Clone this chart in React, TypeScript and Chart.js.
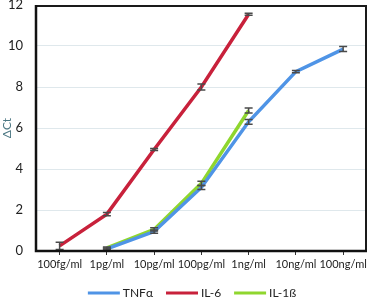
import React, { useEffect, useRef } from "react";
import { Chart, registerables } from "chart.js";

Chart.register(...registerables);

const categories = ["100fg/ml", "1pg/ml", "10pg/ml", "100pg/ml", "1ng/ml", "10ng/ml", "100ng/ml"];
const tnfValues = [null, 0.1, 0.95, 3.1, 6.3, 8.75, 9.85];
const tnfErrors = [0, 0.05, 0.08, 0.1, 0.12, 0.05, 0.12];
const il6Values = [0.25, 1.8, 4.95, 8.0, 11.55, null, null];
const il6Errors = [0.18, 0.08, 0.05, 0.15, 0.05, 0, 0];
const il1Values = [null, 0.15, 1.05, 3.3, 6.85, null, null];
const il1Errors = [0, 0.05, 0.08, 0.1, 0.12, 0, 0];
const yTicks = [0, 2, 4, 6, 8, 10, 12];

const FONT = "Lato, 'Open Sans', sans-serif";

const errorBarPlugin = {
  id: "errorBars",
  afterDatasetsDraw(chart: any) {
    const ctx = chart.ctx;
    const ys = chart.scales.y;
    chart.data.datasets.forEach((ds: any, i: number) => {
      const meta = chart.getDatasetMeta(i);
      const errs = ds.errors as number[];
      meta.data.forEach((pt: any, j: number) => {
        const v = ds.data[j];
        if (v === null || v === undefined) return;
        const e = errs[j] || 0;
        const x = pt.x;
        const y1 = ys.getPixelForValue(v - e);
        const y2 = ys.getPixelForValue(v + e);
        ctx.save();
        ctx.strokeStyle = "#4a4a4a";
        ctx.lineWidth = 1.5;
        ctx.beginPath();
        ctx.moveTo(x, y1);
        ctx.lineTo(x, y2);
        ctx.moveTo(x - 4, y1);
        ctx.lineTo(x + 4, y1);
        ctx.moveTo(x - 4, y2);
        ctx.lineTo(x + 4, y2);
        ctx.stroke();
        ctx.restore();
      });
    });
  },
};

const borderPlugin = {
  id: "areaBorder",
  afterDraw(chart: any) {
    const ctx = chart.ctx;
    const xs = chart.scales.x;
    const ys = chart.scales.y;
    const left = Math.round(xs.left);
    const right = Math.round(xs.right);
    const top = Math.round(ys.top);
    const bottom = Math.round(ys.bottom);
    ctx.save();
    ctx.strokeStyle = "#1a1a1a";
    ctx.lineWidth = 2;
    ctx.beginPath();
    ctx.rect(left, top + 1, right - left - 1, bottom - top - 1);
    ctx.stroke();
    ctx.strokeStyle = "#111";
    ctx.lineWidth = 2.5;
    ctx.beginPath();
    ctx.moveTo(left, top);
    ctx.lineTo(left, bottom);
    ctx.lineTo(right, bottom);
    ctx.stroke();
    ctx.restore();
  },
};

const legendPlugin = {
  id: "bottomLegend",
  afterDraw(chart: any) {
    const ctx = chart.ctx;
    const lineW = 32;
    const gapText = 3;
    const gapItem = 13;
    const y = 293;
    ctx.save();
    ctx.font = `12px ${FONT}`;
    const items = chart.data.datasets.map((ds: any) => ({
      label: ds.label,
      color: ds.borderColor,
      w: lineW + gapText + ctx.measureText(ds.label).width,
    }));
    const total = items.reduce((a: number, it: any) => a + it.w, 0) + gapItem * (items.length - 1);
    let x = 192 - total / 2;
    items.forEach((it: any) => {
      ctx.strokeStyle = it.color;
      ctx.lineWidth = 3;
      ctx.beginPath();
      ctx.moveTo(x, y);
      ctx.lineTo(x + lineW, y);
      ctx.stroke();
      ctx.fillStyle = "#222";
      ctx.textBaseline = "middle";
      ctx.textAlign = "left";
      ctx.fillText(it.label, x + lineW + gapText, y);
      x += it.w + gapItem;
    });
    ctx.restore();
  },
};

export default function App() {
  const ref = useRef<HTMLCanvasElement>(null);
  useEffect(() => {
    document.body.style.margin = "0";
    const chart = new Chart(ref.current!, {
      type: "line",
      data: {
        labels: categories,
        datasets: [
          { label: "TNFα", data: tnfValues, errors: tnfErrors, borderColor: "#4f94e6", backgroundColor: "#4f94e6" } as any,
          { label: "IL-6", data: il6Values, errors: il6Errors, borderColor: "#c8213b", backgroundColor: "#c8213b" } as any,
          { label: "IL-1ß", data: il1Values, errors: il1Errors, borderColor: "#8fd62e", backgroundColor: "#8fd62e" } as any,
        ].map((d: any) => ({ ...d, borderWidth: 3.5, pointRadius: 0, tension: 0, spanGaps: false })),
      },
      options: {
        responsive: false,
        animation: false,
        layout: { padding: { left: 0, right: 3, top: 5, bottom: 27 } },
        plugins: {
          legend: { display: false },
          tooltip: { enabled: false },
        },
        scales: {
          x: {
            offset: true,
            afterFit: (s: any) => { s.height = 22; },
            grid: { display: true, drawOnChartArea: false, drawTicks: true, tickLength: 4, color: "#333", offset: false },
            border: { display: false },
            ticks: { color: "#222", font: { family: FONT, size: 11 }, maxRotation: 0, autoSkip: false, padding: 3 },
          },
          y: {
            min: 0,
            max: 12,
            afterBuildTicks: (s: any) => { s.ticks = yTicks.map((v) => ({ value: v })); },
            afterFit: (s: any) => { s.width = 36; s.paddingTop = 0; s.paddingBottom = 0; },
            grid: { color: "#dfe8ec", drawTicks: false, lineWidth: 1 },
            border: { display: false },
            title: { display: true, text: "ΔCt", color: "#4a7682", font: { family: FONT, size: 12 }, padding: { top: 0, bottom: 0 } },
            ticks: { color: "#222", font: { family: FONT, size: 13 }, padding: 13 },
          },
        },
      },
      plugins: [errorBarPlugin, borderPlugin, legendPlugin],
    });
    return () => chart.destroy();
  }, []);
  return (
    <div style={{ width: 370, height: 300 }}>
      <canvas ref={ref} width={370} height={300} />
    </div>
  );
}
